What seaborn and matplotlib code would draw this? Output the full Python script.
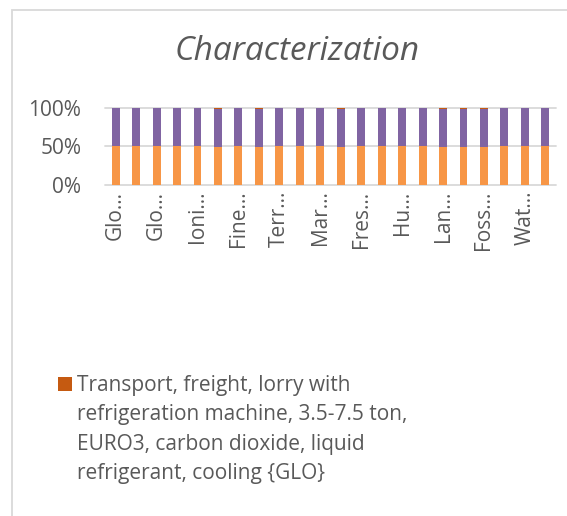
import matplotlib
matplotlib.use("Agg")
import matplotlib.pyplot as plt
import seaborn as sns
import pandas as pd
import numpy as np
from matplotlib.patches import Rectangle

categories = [
    "Global warming, Human health", "Global warming, Terrestrial ecosystems",
    "Global warming, Freshwater ecosystems", "Stratospheric ozone depletion",
    "Ionizing radiation", "Ozone formation, Human health",
    "Fine particulate matter formation", "Ozone formation, Terrestrial ecosystems",
    "Terrestrial acidification", "Freshwater eutrophication", "Marine eutrophication",
    "Terrestrial ecotoxicity", "Freshwater ecotoxicity", "Marine ecotoxicity",
    "Human carcinogenic toxicity", "Human non-carcinogenic toxicity", "Land use",
    "Mineral resource scarcity", "Fossil resource scarcity",
    "Water consumption, Human health", "Water consumption, Terrestrial ecosystem",
    "Water consumption, Aquatic ecosystems",
]
tick_labels = ["Glo…", "", "Glo…", "", "Ioni…", "", "Fine…", "", "Terr…", "", "Mar…", "",
               "Fres…", "", "Hu…", "", "Lan…", "", "Foss…", "", "Wat…", ""]

series_orange = [50.0, 50.0, 50.0, 50.0, 50.0, 49.6, 50.0, 49.6, 50.0, 50.0, 50.0,
                 49.6, 50.0, 50.0, 50.0, 50.0, 49.6, 49.6, 49.6, 50.0, 50.0, 50.0]
series_purple = [50.0, 50.0, 50.0, 50.0, 50.0, 49.6, 50.0, 49.6, 50.0, 50.0, 50.0,
                 49.6, 50.0, 50.0, 50.0, 50.0, 49.6, 49.6, 49.6, 50.0, 50.0, 50.0]
series_brown = [0.0, 0.0, 0.0, 0.0, 0.0, 0.8, 0.0, 0.8, 0.0, 0.0, 0.0,
                0.8, 0.0, 0.0, 0.0, 0.0, 0.8, 0.8, 0.8, 0.0, 0.0, 0.0]

name_brown = ("Transport, freight, lorry with\nrefrigeration machine, 3.5-7.5 ton,\n"
              "EURO3, carbon dioxide, liquid\nrefrigerant, cooling {GLO}")

sns.set_theme(style="white")
plt.rcParams["font.family"] = ["Open Sans", "DejaVu Sans"]

W, H = 567, 516
fig = plt.figure(figsize=(W / 100, H / 100), dpi=100)
ax = fig.add_axes([105 / W, 1 - 185 / H, (556 - 105) / W, (185 - 108) / H])

o = np.array(series_orange)
p = np.array(series_purple)
b = np.array(series_brown)
tot = o + p + b
df = pd.DataFrame({"cat": categories, "o": o, "op": o + p, "tot": tot})

TXT = "#595959"
BROWN = "#C55A11"
bw = 0.39
sns.barplot(data=df, x="cat", y="tot", color=BROWN, saturation=1, width=bw,
            ax=ax, zorder=3)
sns.barplot(data=df, x="cat", y="op", color="#8064A2", saturation=1, width=bw,
            ax=ax, zorder=3)
sns.barplot(data=df, x="cat", y="o", color="#F79646", saturation=1, width=bw,
            ax=ax, zorder=3)
for bar in ax.patches:
    bar.set_linewidth(0)
if ax.get_legend() is not None:
    ax.get_legend().remove()

ax.set_ylim(0, 100)
ax.set_xlim(-0.52, 21.52)
ax.set_yticks([0, 50, 100])
ax.set_yticklabels(["0%", "50%", "100%"])
ax.set_xticks(range(len(categories)))
ax.set_xticklabels(tick_labels, rotation=90, ha="center", va="top")
ax.tick_params(axis="both", length=0, labelsize=15, colors=TXT)
ax.tick_params(axis="y", pad=17)
ax.tick_params(axis="x", pad=4)
ax.set_xlabel("")
ax.set_ylabel("")
for s in ax.spines.values():
    s.set_visible(False)
for yv in [0, 50, 100]:
    ax.axhline(yv, color="#D9D9D9", lw=1.3, zorder=1, clip_on=False)
ax.patch.set_alpha(0)

fig.text(297 / W, 1 - 52 / H, "Characterization", ha="center", va="center",
         fontsize=24, style="italic", color=TXT)

# legend (single visible entry)
fig.add_artist(Rectangle((58 / W, 1 - 391 / H), 14 / W, 14 / H, transform=fig.transFigure,
                         facecolor=BROWN, edgecolor="none"))
fig.text(77 / W, 1 - 375 / H, name_brown, ha="left", va="top", fontsize=15,
         color=TXT, linespacing=1.53)

fig.add_artist(Rectangle((12 / W, -0.1), 1.2, 1 - 10 / H + 0.1, transform=fig.transFigure,
                         fill=False, edgecolor="#D9D9D9", lw=1.3))

fig.savefig("out.png", dpi=100)
